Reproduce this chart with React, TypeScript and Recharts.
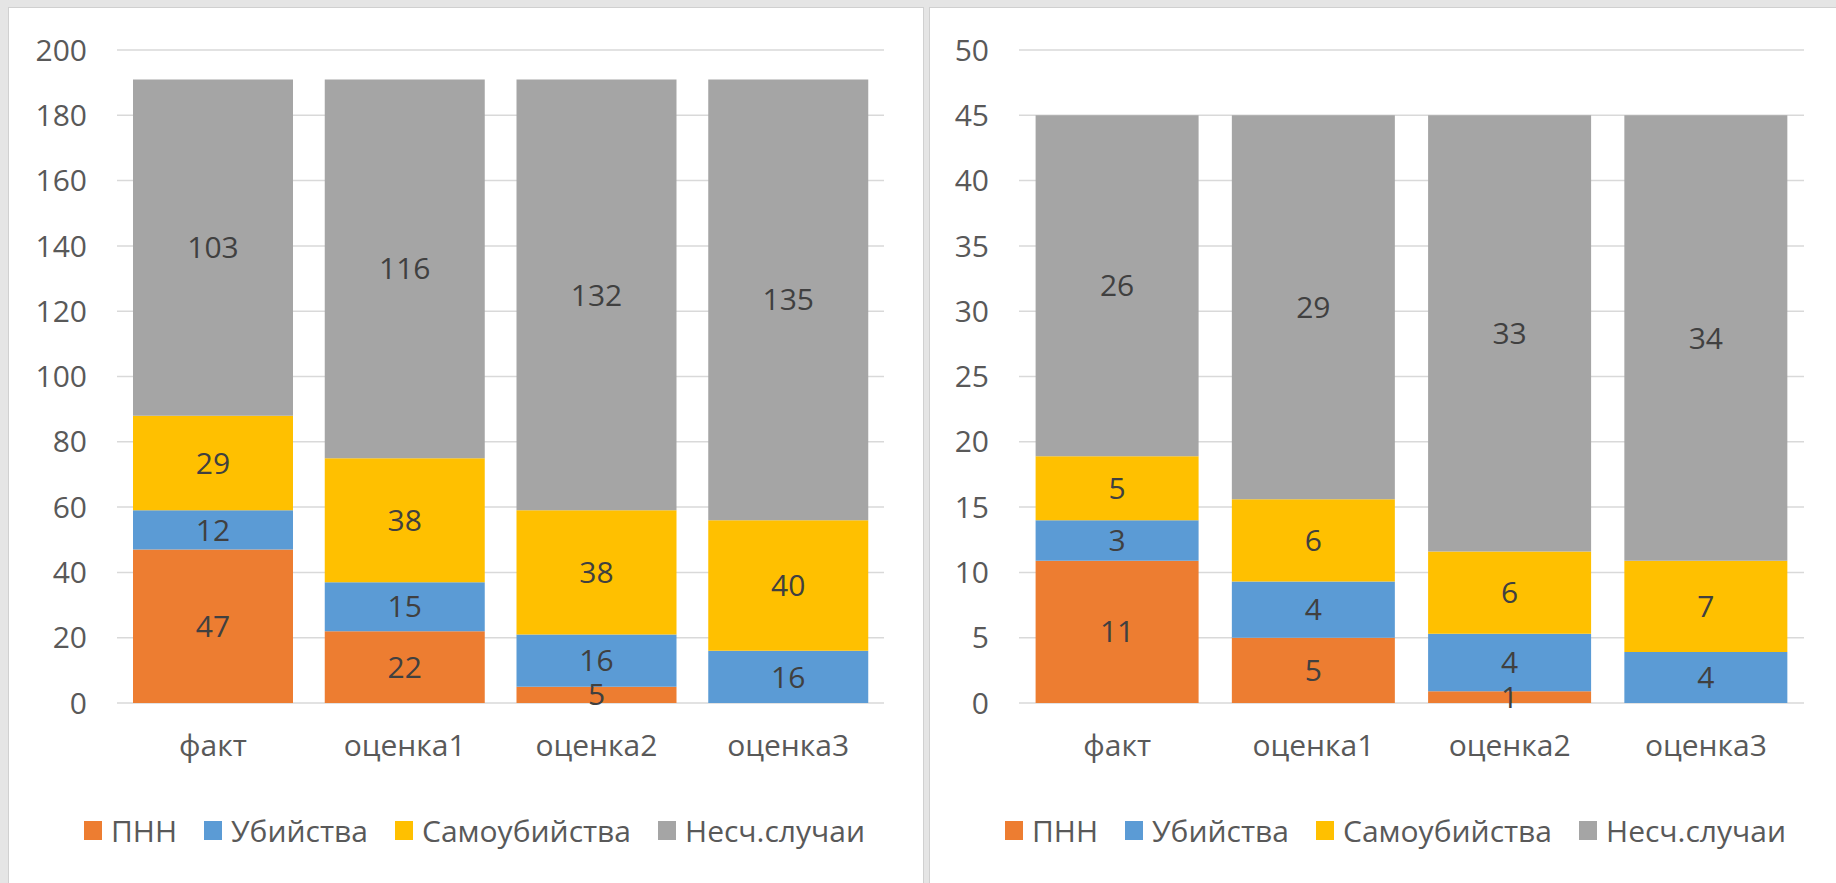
import React from "react";
import {
  BarChart,
  Bar,
  XAxis,
  YAxis,
  CartesianGrid,
  Legend,
  LabelList,
} from "recharts";

const categories = ["факт", "оценка1", "оценка2", "оценка3"];

// левая диаграмма
const pnnLeft = [47, 22, 5, 0];
const killLeft = [12, 15, 16, 16];
const suicideLeft = [29, 38, 38, 40];
const accidentLeft = [103, 116, 132, 135];
const ticksLeft = [0, 20, 40, 60, 80, 100, 120, 140, 160, 180, 200];

// правая диаграмма
const pnnRight = [10.9, 5.0, 0.9, 0];
const killRight = [3.1, 4.3, 4.4, 3.9];
const suicideRight = [4.9, 6.3, 6.3, 7.0];
const accidentRight = [26.1, 29.4, 33.4, 34.1];
const ticksRight = [0, 5, 10, 15, 20, 25, 30, 35, 40, 45, 50];

const SERIES = [
  { key: "pnn", name: "ПНН", color: "#ED7D31" },
  { key: "kill", name: "Убийства", color: "#5B9BD5" },
  { key: "suicide", name: "Самоубийства", color: "#FFC000" },
  { key: "accident", name: "Несч.случаи", color: "#A5A5A5" },
];

const FONT = 30;

function buildRows(pnn: number[], kill: number[], suicide: number[], accident: number[]) {
  return categories.map((c, i) => ({
    name: c,
    pnn: pnn[i],
    kill: kill[i],
    suicide: suicide[i],
    accident: accident[i],
  }));
}

// легенда в порядке серий, как в Excel
function LegendBox({ payload, shift }: any) {
  const order = SERIES.map((s) => s.name);
  const items = [...(payload || [])].sort(
    (a: any, b: any) => order.indexOf(a.value) - order.indexOf(b.value),
  );
  return (
    <div
      style={{
        display: "flex",
        justifyContent: "center",
        alignItems: "center",
        height: 50,
        marginLeft: shift,
        fontSize: FONT,
        color: "#595959",
      }}
    >
      {items.map((p: any, i: number) => (
        <span
          key={p.value}
          style={{
            display: "inline-flex",
            alignItems: "center",
            marginLeft: i === 0 ? 0 : 27,
          }}
        >
          <span
            style={{
              width: 18,
              height: 19,
              background: p.color,
              marginRight: 9,
              display: "inline-block",
            }}
          />
          {p.value}
        </span>
      ))}
    </div>
  );
}

function StackPanel({
  data,
  ticks,
  width,
  yWidth,
  right,
  gap,
  shift,
}: {
  data: any[];
  ticks: number[];
  width: number;
  yWidth: number;
  right: number;
  gap: number | string;
  shift: number;
}) {
  return (
    <BarChart
      width={width}
      height={875}
      data={data}
      margin={{ top: 42, right, left: 0, bottom: 28 }}
      barCategoryGap={gap}
    >
      <CartesianGrid vertical={false} stroke="#d9d9d9" strokeWidth={1.5} />
      <XAxis
        dataKey="name"
        height={102}
        axisLine={false}
        tickLine={false}
        tickMargin={26}
        tick={{ fill: "#595959", fontSize: FONT }}
      />
      <YAxis
        width={yWidth}
        domain={[0, ticks[ticks.length - 1]]}
        ticks={ticks}
        interval={0}
        axisLine={false}
        tickLine={false}
        tickMargin={24}
        tick={{ fill: "#595959", fontSize: FONT }}
      />
      <Legend
        verticalAlign="bottom"
        wrapperStyle={{ height: 50, left: 0, width }}
        content={(props: any) => <LegendBox {...props} shift={shift} />}
      />
      {SERIES.map((s) => (
        <Bar
          key={s.key}
          dataKey={s.key}
          name={s.name}
          stackId="a"
          fill={s.color}
          isAnimationActive={false}
        >
          <LabelList
            dataKey={s.key}
            position="center"
            fill="#404040"
            fontSize={FONT}
            formatter={(v: any) => (v ? Math.round(v) : "")}
          />
        </Bar>
      ))}
    </BarChart>
  );
}

export default function App() {
  const left = buildRows(pnnLeft, killLeft, suicideLeft, accidentLeft);
  const rightData = buildRows(pnnRight, killRight, suicideRight, accidentRight);
  return (
    <div
      style={{
        position: "absolute",
        left: 0,
        top: 0,
        width: 1836,
        height: 883,
        background: "#e5e5e5",
        fontFamily: "'Open Sans', sans-serif",
        overflow: "hidden",
      }}
    >
      <div
        style={{
          position: "absolute",
          left: 9,
          top: 8,
          width: 914,
          height: 875,
          background: "#fff",
          outline: "1px solid #d0d0d0",
        }}
      >
        <StackPanel
          data={left}
          ticks={ticksLeft}
          width={914}
          yWidth={108}
          right={39}
          gap={16}
          shift={17}
        />
      </div>
      <div
        style={{
          position: "absolute",
          left: 930,
          top: 8,
          width: 906,
          height: 875,
          background: "#fff",
          outline: "1px solid #d0d0d0",
        }}
      >
        <StackPanel
          data={rightData}
          ticks={ticksRight}
          width={906}
          yWidth={89}
          right={32}
          gap={16.6}
          shift={25}
        />
      </div>
    </div>
  );
}
